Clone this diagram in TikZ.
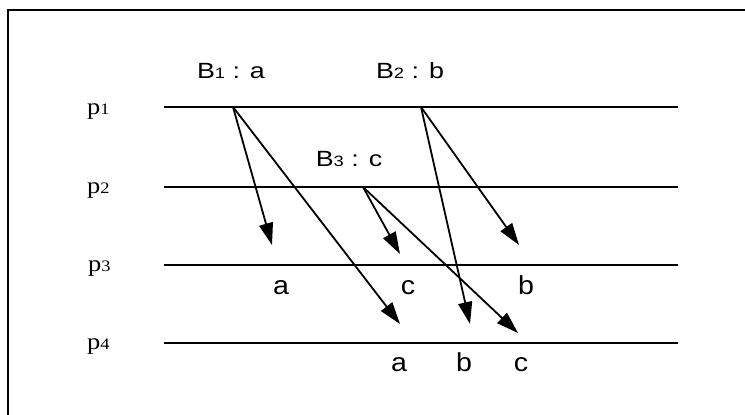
\documentclass[tikz,border=0pt]{standalone}
\usepackage{fontspec}
\setmainfont{Liberation Serif}
\setsansfont{Liberation Sans}
\usetikzlibrary{arrows.meta}
\begin{document}
\begin{tikzpicture}[x=1pt,y=-1pt,
  frame/.style={line width=2.2pt},
  track/.style={line width=1.8pt},
  msg/.style={-{Triangle[length=22pt,width=14pt]}, line width=1.8pt},
  plab/.style={font=\fontsize{23}{23}\selectfont, xscale=1.15, inner sep=0pt, anchor=base west},
  blab/.style={font=\sffamily\fontsize{22}{22}\selectfont, xscale=1.22, inner sep=0pt, anchor=base},
  vlab/.style={font=\sffamily\fontsize{26}{26}\selectfont, xscale=1.1, inner sep=0pt, anchor=base}]
\useasboundingbox (0,0) rectangle (745,415);
% frame (cut off at right and bottom)
\coordinate (fbl) at (8,425);
\coordinate (ftl) at (8,10);
\coordinate (ftr) at (755,10);
\draw[frame] (fbl) -- (ftl) -- (ftr);
% process lines
\foreach \n/\y in {1/107,2/187,3/265,4/343}{
  \coordinate (l\n) at (164,\y);
  \coordinate (r\n) at (678,\y);
  \draw[track] (l\n) -- (r\n);
}
% process labels
\node[plab] (pl1) at (87,114) {p{\fontsize{16}{16}\selectfont 1}};
\node[plab] (pl2) at (87,193) {p{\fontsize{16}{16}\selectfont 2}};
\node[plab] (pl3) at (88,271) {p{\fontsize{16}{16}\selectfont 3}};
\node[plab] (pl4) at (87,349) {p{\fontsize{16}{16}\selectfont 4}};
% broadcast labels
\node[blab] (b1) at (231,78) {B{\fontsize{15}{15}\selectfont 1} : a};
\node[blab] (b2) at (410,78) {B{\fontsize{15}{15}\selectfont 2} : b};
\node[blab] (b3) at (349,166) {B{\fontsize{15}{15}\selectfont 3} : c};
% sources and targets
\coordinate (s1) at (233,107);
\coordinate (s2) at (421,107);
\coordinate (s3) at (363,187);
\coordinate (t1a) at (272,245);
\coordinate (t1b) at (400,324);
\coordinate (t2a) at (470,324);
\coordinate (t2b) at (519,245);
\coordinate (t3a) at (400,254);
\coordinate (t3b) at (518,333);
\draw[msg] (s1) -- (t1a);
\draw[msg] (s1) -- (t1b);
\draw[msg] (s2) -- (t2a);
\draw[msg] (s2) -- (t2b);
\draw[msg] (s3) -- (t3a);
\draw[msg] (s3) -- (t3b);
% delivery labels
\node[vlab] (d3a) at (281,294) {a};
\node[vlab] (d3c) at (408,294) {c};
\node[vlab] (d3b) at (526,294) {b};
\node[vlab] (d4a) at (399,371) {a};
\node[vlab] (d4b) at (464,371) {b};
\node[vlab] (d4c) at (521,371) {c};
\end{tikzpicture}
\end{document}
